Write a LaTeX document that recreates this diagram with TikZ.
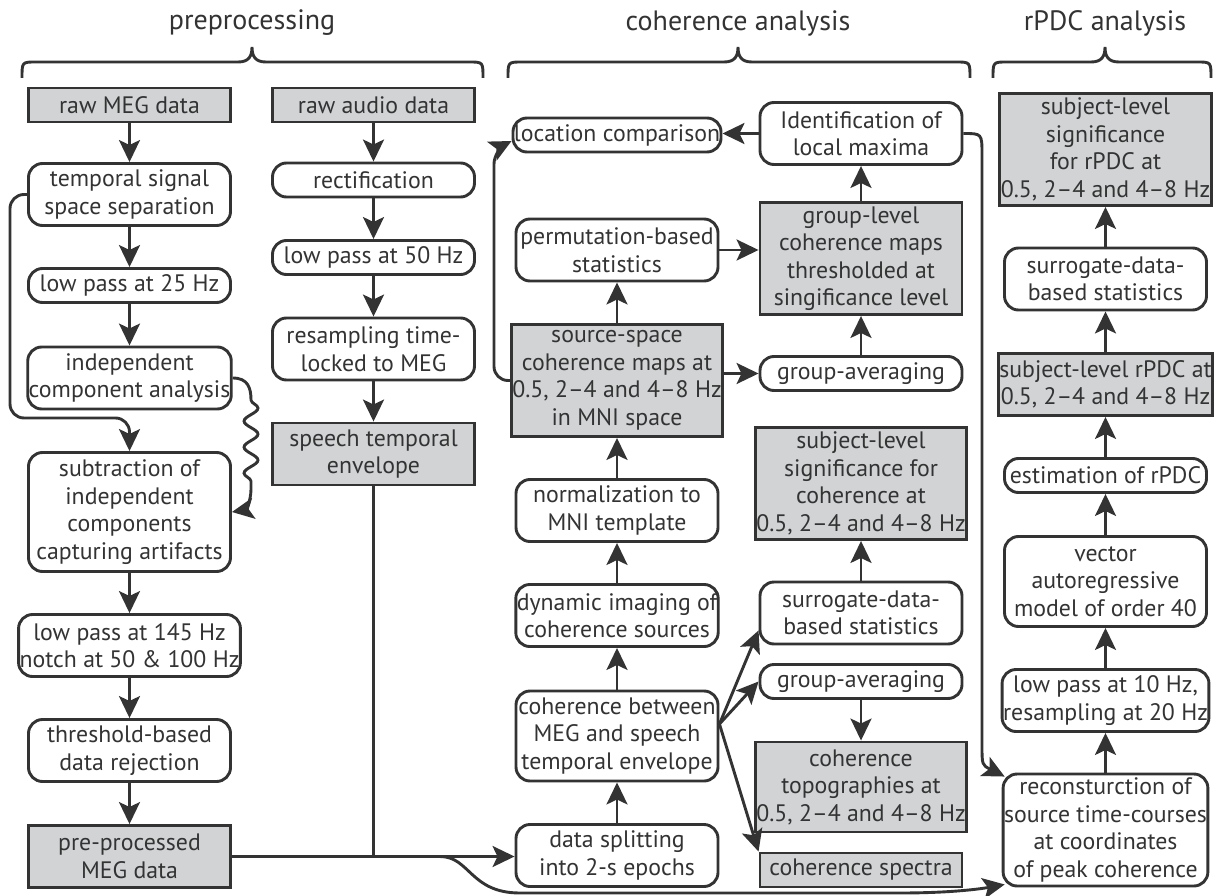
\documentclass[tikz,border=0pt]{standalone}
\usepackage{fontspec}
\setmainfont{PT Sans}
\usepackage{xcolor}
\usepackage{tikz}
\usetikzlibrary{arrows.meta,decorations.pathmorphing}
\definecolor{mydark}{RGB}{51,51,51}
\definecolor{mygray}{RGB}{209,211,212}
\tikzstyle{proc} = [draw=mydark, line width=2.9pt, rounded corners=14pt, fill=white, minimum width=202pt, align=center, inner sep=1pt]
\tikzstyle{data} = [proc, sharp corners, fill=mygray]
\tikzstyle{h1} = [minimum height=34pt]
\tikzstyle{h2} = [minimum height=62pt]
\tikzstyle{h3} = [minimum height=90pt]
\tikzstyle{h4} = [minimum height=112pt]
\tikzstyle{title} = [font=\fontsize{28}{32}\selectfont]
\tikzstyle{line} = [draw=mydark, line width=2.9pt]
\tikzstyle{arrow} = [line, -{Stealth[length=22pt,width=21pt,inset=5pt]}]

\begin{document}
\begin{tikzpicture}[x=1pt,y=-1pt,text=mydark,font=\fontsize{23.8}{27.5}\selectfont]
    \useasboundingbox (0,0) rectangle (1215,896);
    % headings
    \node[title] (tpre) at (252,23) {preprocessing};
    \node[title] (tcoh) at (738,23) {coherence analysis};
    \node[title] (trpdc) at (1105,23) {rPDC analysis};
    \foreach \a/\m/\b in {22/252/483, 508/738/970, 993/1105/1211}
      \draw[line] (\a,78) .. controls (\a,62) .. (\a+14,62) -- (\m-14,62) .. controls (\m-3,62) and (\m,56) .. (\m,47) .. controls (\m,56) and (\m+3,62) .. (\m+14,62) -- (\b-14,62) .. controls (\b,62) .. (\b,78);

    % preprocessing
    \node[data,h1] (rawmeg) at (129.5,105) {raw MEG data};
    \node[proc,h2] (tss) at (129.5,194.5) {temporal signal\\space separation};
    \node[proc,h1] (lp25) at (129.5,285.5) {low pass at 25 Hz};
    \node[proc,h2] (ica) at (129.5,378) {independent\\component analysis};
    \node[proc,minimum height=119pt] (sub) at (129.5,512) {subtraction of\\independent\\components\\capturing artifacts};
    \node[proc,h2] (lp145) at (129.5,645.5) {low pass at 145 Hz\\notch at 50 \& 100 Hz};
    \node[proc,h2] (thr) at (129.5,750.5) {threshold-based\\data rejection};
    \node[data,h2] (pre) at (129.5,856.5) {pre-processed\\MEG data};

    \node[data,h1] (rawaud) at (373.5,105) {raw audio data};
    \node[proc,h1] (rect) at (373.5,180) {rectification};
    \node[proc,h1] (lp50) at (373.5,257.5) {low pass at 50 Hz};
    \node[proc,h2] (resamp) at (373.5,349) {resampling time-\\locked to MEG};
    \node[data,h2] (speech) at (373.5,454) {speech temporal\\envelope};

    % coherence analysis
    \node[proc,h1] (loc) at (617,135) {location comparison};
    \node[proc,h2] (perm) at (617,250) {permutation-based\\statistics};
    \node[data,h4] (src) at (617,380.5) {source-space\\coherence maps at\\0.5, 2--4 and 4--8 Hz\\in MNI space};
    \node[proc,h2] (norm) at (617,510.5) {normalization to\\MNI template};
    \node[proc,h2] (dyn) at (617,615.5) {dynamic imaging of\\coherence sources};
    \node[proc,h3] (coh) at (617,736) {coherence between\\MEG and speech\\temporal envelope};
    \node[proc,h2] (split) at (617,855.5) {data splitting\\into 2-s epochs};

    \node[proc,h2] (ident) at (861,133.5) {Identification of\\local maxima};
    \node[data,h4] (grp) at (861,258.5) {group-level\\coherence maps\\thresholded at\\singificance level};
    \node[proc,h1] (ga1) at (861,373.5) {group-averaging};
    \node[data,h4] (subj) at (861,483.5) {subject-level\\significance for\\coherence at\\0.5, 2--4 and 4--8 Hz};
    \node[proc,h2] (surr) at (861,613) {surrogate-data-\\based statistics};
    \node[proc,h1] (ga2) at (861,681.5) {group-averaging};
    \node[data,h3] (topo) at (861,787) {coherence\\topographies at\\0.5, 2--4 and 4--8 Hz};
    \node[data,h1] (spec) at (861,870) {coherence spectra};

    % rPDC analysis
    \node[data,h4] (sigr) at (1105.5,149.5) {subject-level\\significance\\for rPDC at\\0.5, 2--4 and 4--8 Hz};
    \node[proc,h2] (surr2) at (1105.5,279) {surrogate-data-\\based statistics};
    \node[data,h2] (subjr) at (1105.5,384.5) {subject-level rPDC at\\0.5, 2--4 and 4--8 Hz};
    \node[proc,h1] (est) at (1105.5,475.5) {estimation of rPDC};
    \node[proc,h3] (var) at (1105.5,581.5) {vector\\autoregressive\\model of order 40};
    \node[proc,h2] (lp10) at (1105.5,700.5) {low pass at 10 Hz,\\resampling at 20 Hz};
    \node[proc,h4] (recon) at (1105.5,830) {reconsturction of\\source time-courses\\at coordinates\\of peak coherence};

    % arrows preprocessing
    \draw[arrow] (rawmeg) -- (tss);
    \draw[arrow] (tss) -- (lp25);
    \draw[arrow] (lp25) -- (ica);
    \draw[arrow] (sub) -- (lp145);
    \draw[arrow] (lp145) -- (thr);
    \draw[arrow] (thr) -- (pre);
    \draw[arrow,rounded corners=14pt] (tss.west) -| (10,418) -| (sub.north);
    \draw[arrow] (ica.east) .. controls (248,378) and (251,388) .. (251,400) decorate[decoration={snake,amplitude=7pt,segment length=26pt}] {-- (251,488)} .. controls (251,505) and (244,510) .. (sub.east);
    \draw[arrow] (rawaud) -- (rect);
    \draw[arrow] (rect) -- (lp50);
    \draw[arrow] (lp50) -- (resamp);
    \draw[arrow] (resamp) -- (speech);
    \draw[line] (speech) -- (speech |- pre.east);
    \draw[arrow] (pre.east) -- (pre.east -| split.west);
    \draw[arrow] (pre.east) -- (440,856.5) .. controls (470,856.5) and (470,893) .. (520,893) -- (900,893) .. controls (950,893) and (980,889) .. ([shift={(3,-3)}]recon.south west);

    % arrows coherence
    \draw[arrow] (split) -- (coh);
    \draw[arrow] (coh) -- (dyn);
    \draw[arrow] (dyn) -- (norm);
    \draw[arrow] (norm) -- (src);
    \draw[arrow] (src) -- (perm);
    \draw[arrow] (src.east |- ga1.west) -- (ga1.west);
    \draw[arrow] (perm.east) -- (perm.east -| grp.west);
    \draw[arrow] (ga1) -- (grp);
    \draw[arrow] (grp) -- (ident);
    \draw[arrow] (ident.west) -- (ident.west -| loc.east);
    \draw[arrow,rounded corners=14pt] (src.west) -| (494,150) -- ([shift={(0,6)}]loc.west);
    \draw[arrow] (surr) -- (subj);
    \draw[arrow] (ga2) -- (topo);
    \coordinate (fan) at ([shift={(0,-12)}]coh.east);
    \draw[arrow] (fan) -- ([shift={(0,-15)}]surr.south west);
    \draw[arrow] (fan) -- (ga2.west);
    \draw[arrow] (fan) -- (spec.north west);
    \draw[arrow] (ident.east) .. controls (982,133.5) .. (982,155) -- (982,745) .. controls (982,765) .. ([shift={(3,4)}]recon.north west);

    % arrows rPDC
    \draw[arrow] (recon) -- (lp10);
    \draw[arrow] (lp10) -- (var);
    \draw[arrow] (var) -- (est);
    \draw[arrow] (est) -- (subjr);
    \draw[arrow] (subjr) -- (surr2);
    \draw[arrow] (surr2) -- (sigr);
\end{tikzpicture}
\end{document}
